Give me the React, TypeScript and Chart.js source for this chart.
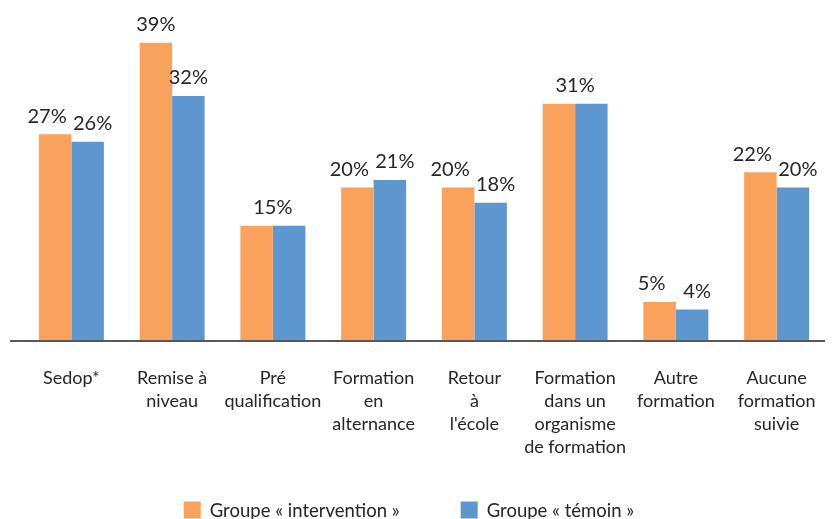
import React, { useEffect, useRef } from "react";
import { Chart, registerables } from "chart.js";

Chart.register(...registerables);

const categories: string[][] = [
  ["Sedop*"],
  ["Remise à", "niveau"],
  ["Pré", "qualification"],
  ["Formation", "en", "alternance"],
  ["Retour", "à", "l'école"],
  ["Formation", "dans un", "organisme", "de formation"],
  ["Autre", "formation"],
  ["Aucune", "formation", "suivie"],
];
const interventionValues = [27, 39, 15, 20, 20, 31, 5, 22];
const temoinValues = [26, 32, 15, 21, 18, 31, 4, 20];
const seriesNames = ["Groupe « intervention »", "Groupe « témoin »"];
const colors = ["#F9A25E", "#5E97D0"];
const FONT = "Lato, 'Open Sans', sans-serif";
const TEXT = "#262626";

const labelsPlugin = {
  id: "valueLabels",
  afterDatasetsDraw(chart: any) {
    const ctx = chart.ctx;
    const m0 = chart.getDatasetMeta(0);
    const m1 = chart.getDatasetMeta(1);
    ctx.save();
    ctx.font = `20px ${FONT}`;
    ctx.fillStyle = TEXT;
    ctx.textAlign = "center";
    ctx.textBaseline = "bottom";
    for (let i = 0; i < interventionValues.length; i++) {
      const a = interventionValues[i];
      const b = temoinValues[i];
      const e0 = m0.data[i];
      const e1 = m1.data[i];
      if (a === b) {
        ctx.fillText(`${a}%`, (e0.x + e1.x) / 2, Math.min(e0.y, e1.y) - 8);
      } else {
        const spread = Math.abs(a - b) >= 5 ? 0 : 1;
        ctx.fillText(`${a}%`, e0.x - 8 * spread, e0.y - 8);
        ctx.fillText(`${b}%`, e1.x + 5 * spread, e1.y - 8);
      }
    }
    // baseline axis
    const y0 = chart.scales.y.getPixelForValue(0);
    ctx.strokeStyle = "#595959";
    ctx.lineWidth = 2;
    ctx.beginPath();
    ctx.moveTo(10, y0 + 1);
    ctx.lineTo(825, y0 + 1);
    ctx.stroke();
    ctx.restore();
  },
};

const legendPlugin = {
  id: "customLegend",
  afterDraw(chart: any) {
    const ctx = chart.ctx;
    ctx.save();
    ctx.font = `18.5px ${FONT}`;
    ctx.textBaseline = "middle";
    ctx.textAlign = "left";
    const box = 17;
    const gapText = 9;
    const gapItems = 61;
    const widths = seriesNames.map((n) => box + gapText + ctx.measureText(n).width);
    const total = widths.reduce((s, w) => s + w, 0) + gapItems * (widths.length - 1);
    let x = 409 - total / 2;
    const yc = 510;
    seriesNames.forEach((n, i) => {
      ctx.fillStyle = chart.data.datasets[i].backgroundColor;
      ctx.fillRect(x, yc - box / 2, box, box);
      ctx.fillStyle = TEXT;
      ctx.fillText(n, x + box + gapText, yc + 1);
      x += widths[i] + gapItems;
    });
    ctx.restore();
  },
};

export default function App() {
  const ref = useRef<HTMLCanvasElement>(null);
  useEffect(() => {
    if (!ref.current) return;
    const chart = new Chart(ref.current, {
      type: "bar",
      data: {
        labels: categories,
        datasets: [
          { label: seriesNames[0], data: interventionValues, backgroundColor: colors[0] },
          { label: seriesNames[1], data: temoinValues, backgroundColor: colors[1] },
        ],
      },
      options: {
        animation: false,
        responsive: false,
        maintainAspectRatio: false,
        layout: { padding: { left: 21, right: 6, top: 35, bottom: 0 } },
        datasets: { bar: { categoryPercentage: 0.645, barPercentage: 1 } },
        plugins: { legend: { display: false }, tooltip: { enabled: false } },
        scales: {
          x: {
            grid: { display: false, drawTicks: false },
            border: { display: false },
            ticks: {
              color: TEXT,
              font: { family: FONT, size: 18, lineHeight: 23 / 18 },
              padding: 27,
              maxRotation: 0,
              autoSkip: false,
            },
            afterFit(scale: any) {
              scale.height = 179;
              scale.paddingLeft = 0;
              scale.paddingRight = 0;
            },
          },
          y: { display: false, min: 0, max: 40 },
        },
      },
      plugins: [labelsPlugin, legendPlugin],
    });
    return () => chart.destroy();
  }, []);
  return (
    <div style={{ position: "absolute", left: 0, top: 0, width: 833, height: 519, background: "#fff" }}>
      <canvas ref={ref} width={833} height={519} style={{ display: "block" }} />
    </div>
  );
}
